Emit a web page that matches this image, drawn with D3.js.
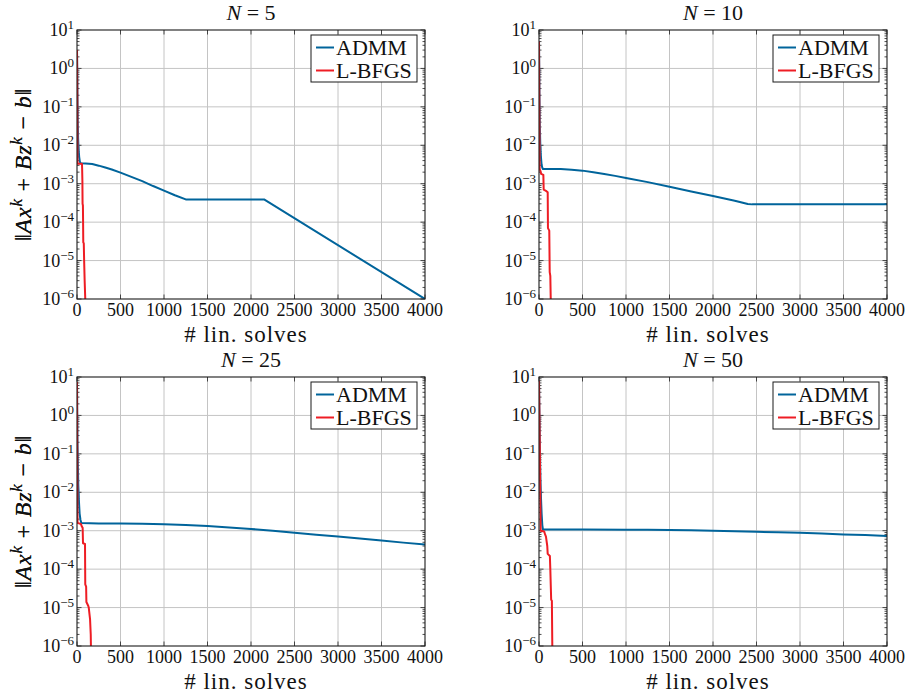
<!DOCTYPE html>
<html>
<head>
<meta charset="utf-8">
<script src="https://cdn.jsdelivr.net/npm/d3@7"></script>
<style>
  html, body { margin: 0; padding: 0; background: #fff; }
  svg text { font-family: "Liberation Serif", "DejaVu Serif", serif; }
</style>
</head>
<body>
<svg id="chart" width="912" height="694"></svg>
<script>
// Residual ||Ax^k + Bz^k - b|| against number of linear solves, for N = 5, 10, 25, 50.
const panelTitles = ["5", "10", "25", "50"];
const seriesNames = ["ADMM", "L-BFGS"];
const xTicks = [0, 500, 1000, 1500, 2000, 2500, 3000, 3500, 4000];
const yExponents = [1, 0, -1, -2, -3, -4, -5, -6];

const admm5 = [[0,3],[3,0.8],[6,0.15],[9,0.04],[13,0.015],[18,0.008],[25,0.005],[32,0.0038],[40,0.00339],[100,0.00335],[175,0.00324],[250,0.00295],[325,0.00263],[400,0.00234],[500,0.00195],[625,0.00151],[750,0.00117],[875,0.00087],[1000,0.00066],[1125,0.0005],[1250,0.00039],[2150,0.00039],[4000,1e-6]];
const lbfgs5 = [[0,3],[3,0.3],[6,0.0033],[57,0.0033],[59,0.0025],[62,0.0012],[64,0.0003],[68,0.00027],[70,0.0001],[72,3e-5],[78,2.8e-5],[82,1e-5],[88,3e-6],[95,1e-6]];

const admm10 = [[0,5],[3,1],[6,0.15],[10,0.03],[15,0.01],[22,0.005],[30,0.0031],[38,0.0026],[45,0.0024],[150,0.0024],[250,0.0024],[375,0.00232],[500,0.00219],[625,0.002],[750,0.0018],[875,0.0016],[1000,0.00141],[1250,0.0011],[1500,0.00083],[1750,0.00063],[2000,0.00048],[2250,0.00036],[2400,0.000295],[2450,0.00029],[4000,0.00029]];
const lbfgs10 = [[0,5],[4,0.1],[8,0.0024],[15,0.0022],[25,0.0018],[50,0.0017],[54,0.0007],[80,0.00065],[100,0.0006],[103,7e-5],[118,6e-5],[123,5e-6],[130,4e-6],[135,1e-6]];

const admm25 = [[0,7],[3,1],[6,0.2],[10,0.05],[15,0.015],[22,0.006],[30,0.0028],[40,0.0019],[50,0.00158],[250,0.00155],[500,0.00154],[750,0.00152],[1000,0.00148],[1250,0.00141],[1500,0.00132],[1750,0.00122],[2000,0.00111],[2250,0.001],[2500,0.00089],[2750,0.00079],[3000,0.00071],[3250,0.00063],[3500,0.00056],[3750,0.00049],[4000,0.00044]];
const lbfgs25 = [[0,7.4],[3,0.1],[6,0.0016],[45,0.0015],[55,0.0013],[65,0.0012],[69,0.00047],[92,0.00045],[95,4e-5],[105,3.5e-5],[108,1.4e-5],[130,1.1e-5],[135,1e-5],[150,5e-6],[158,2e-6],[160,1e-6]];

const admm50 = [[0,8],[4,1.5],[8,0.4],[12,0.08],[17,0.02],[23,0.007],[30,0.0028],[38,0.0014],[45,0.00108],[500,0.00107],[1000,0.001066],[1250,0.001057],[1500,0.001042],[1750,0.001023],[2000,0.001],[2250,0.00097],[2500,0.00094],[2750,0.00091],[3000,0.00088],[3250,0.00084],[3500,0.0008],[3750,0.00077],[4000,0.00073]];
const lbfgs50 = [[0,8],[10,0.1],[19,0.001],[60,0.00095],[70,0.0008],[80,0.0007],[95,0.0004],[100,0.00025],[125,0.00022],[130,0.0001],[140,1.6e-5],[148,1.5e-5],[153,1e-6]];

const admmSets = [admm5, admm10, admm25, admm50];
const lbfgsSets = [lbfgs5, lbfgs10, lbfgs25, lbfgs50];
const colors = ["#00649b", "#ee1d24"];
const fontFamily = "Liberation Serif, DejaVu Serif, serif";

const svg = d3.select("#chart");
const plotW = 348, plotH = 269;
const origins = [[77, 30], [539, 30], [77, 377], [539, 377]];

origins.forEach(([ox, oy], i) => {
  const g = svg.append("g").attr("transform", `translate(${ox},${oy})`)
    .attr("font-family", fontFamily);
  const x = d3.scaleLinear().domain([0, 4000]).range([0, plotW]);
  const y = d3.scaleLog().domain([1e-6, 1e1]).range([plotH, 0]);

  // clip region for the curves
  const clipId = "clip" + i;
  g.append("clipPath").attr("id", clipId)
    .append("rect").attr("x", 0).attr("y", 0).attr("width", plotW).attr("height", plotH);

  // grid
  const grid = g.append("g").attr("stroke", "#c4c4c4").attr("stroke-width", 1);
  xTicks.slice(1, -1).forEach(t => {
    grid.append("line").attr("x1", x(t)).attr("x2", x(t)).attr("y1", 0).attr("y2", plotH);
  });
  yExponents.slice(1, -1).forEach(e => {
    grid.append("line").attr("x1", 0).attr("x2", plotW).attr("y1", y(Math.pow(10, e))).attr("y2", y(Math.pow(10, e)));
  });

  // minor and major ticks (inward) on left/right, majors on top/bottom
  const ticks = g.append("g").attr("stroke", "#222").attr("stroke-width", 0.8);
  for (let e = -6; e < 1; e++) {
    for (let m = 2; m <= 9; m++) {
      const yy = y(m * Math.pow(10, e));
      ticks.append("line").attr("x1", 0).attr("x2", 2.5).attr("y1", yy).attr("y2", yy);
      ticks.append("line").attr("x1", plotW).attr("x2", plotW - 2.5).attr("y1", yy).attr("y2", yy);
    }
  }
  yExponents.forEach(e => {
    const yy = y(Math.pow(10, e));
    ticks.append("line").attr("x1", 0).attr("x2", 4.5).attr("y1", yy).attr("y2", yy);
    ticks.append("line").attr("x1", plotW).attr("x2", plotW - 4.5).attr("y1", yy).attr("y2", yy);
  });
  xTicks.forEach(t => {
    ticks.append("line").attr("x1", x(t)).attr("x2", x(t)).attr("y1", plotH).attr("y2", plotH - 4.5);
    ticks.append("line").attr("x1", x(t)).attr("x2", x(t)).attr("y1", 0).attr("y2", 4.5);
  });

  // curves
  const line = d3.line().x(d => x(d[0])).y(d => y(d[1]));
  const curves = g.append("g").attr("clip-path", `url(#${clipId})`);
  curves.append("path").datum(admmSets[i])
    .attr("d", line).attr("fill", "none").attr("stroke", colors[0])
    .attr("stroke-width", 2).attr("stroke-linejoin", "round");
  curves.append("path").datum(lbfgsSets[i])
    .attr("d", line).attr("fill", "none").attr("stroke", colors[1])
    .attr("stroke-width", 2).attr("stroke-linejoin", "round");

  // frame
  g.append("rect").attr("x", 0).attr("y", 0).attr("width", plotW).attr("height", plotH)
    .attr("fill", "none").attr("stroke", "#1a1a1a").attr("stroke-width", 1.1);

  // x tick labels
  xTicks.forEach(t => {
    g.append("text").attr("x", x(t)).attr("y", plotH + 17)
      .attr("font-family", fontFamily)
      .attr("text-anchor", "middle").attr("font-size", 18).attr("fill", "#111")
      .text(t);
  });

  // y tick labels 10^e
  yExponents.forEach(e => {
    const yy = y(Math.pow(10, e));
    const expText = e < 0 ? "\u2212" + (-e) : String(e);
    const tx = g.append("text").attr("x", -3).attr("y", yy + 6)
      .attr("font-family", fontFamily)
      .attr("text-anchor", "end").attr("font-size", 18).attr("fill", "#111");
    tx.append("tspan").text("10");
    tx.append("tspan").attr("dy", -7).attr("font-size", 13).text(expText);
  });

  // title
  const title = g.append("text").attr("x", plotW / 2).attr("y", -10)
    .attr("font-family", fontFamily)
    .attr("text-anchor", "middle").attr("font-size", 22).attr("fill", "#111");
  title.append("tspan").attr("font-style", "italic").text("N");
  title.append("tspan").text(" = " + panelTitles[i]);

  // x axis label
  g.append("text").attr("x", plotW / 2 - 5).attr("y", plotH + 43)
    .attr("font-family", fontFamily).attr("letter-spacing", 1)
    .attr("text-anchor", "middle").attr("font-size", 23).attr("fill", "#111")
    .text("# lin. solves");

  // y axis label
  const yl = g.append("text")
    .attr("font-family", fontFamily).attr("letter-spacing", 0.8)
    .attr("transform", `translate(${-ox + 31},${plotH / 2}) rotate(-90)`)
    .attr("text-anchor", "middle").attr("font-size", 24).attr("fill", "#111");
  yl.append("tspan").text("\u2016");
  yl.append("tspan").attr("font-style", "italic").text("Ax");
  yl.append("tspan").attr("font-style", "italic").attr("dy", -9).attr("font-size", 17).text("k");
  yl.append("tspan").attr("dy", 9).text(" + ");
  yl.append("tspan").attr("font-style", "italic").text("Bz");
  yl.append("tspan").attr("font-style", "italic").attr("dy", -9).attr("font-size", 17).text("k");
  yl.append("tspan").attr("dy", 9).text(" \u2212 ");
  yl.append("tspan").attr("font-style", "italic").text("b");
  yl.append("tspan").text("\u2016");

  // legend
  const lg = g.append("g").attr("transform", `translate(${plotW - 114},5)`);
  lg.append("rect").attr("width", 106).attr("height", 47)
    .attr("fill", "#fff").attr("stroke", "#1a1a1a").attr("stroke-width", 1);
  seriesNames.forEach((name, k) => {
    const ly = 12.5 + k * 23;
    lg.append("line").attr("x1", 5).attr("x2", 23).attr("y1", ly).attr("y2", ly)
      .attr("stroke", colors[k]).attr("stroke-width", 2);
    lg.append("text").attr("x", 25).attr("y", ly + 7.5)
      .attr("font-family", fontFamily)
      .attr("font-size", 22).attr("fill", "#111").text(name);
  });
});
</script>
</body>
</html>
